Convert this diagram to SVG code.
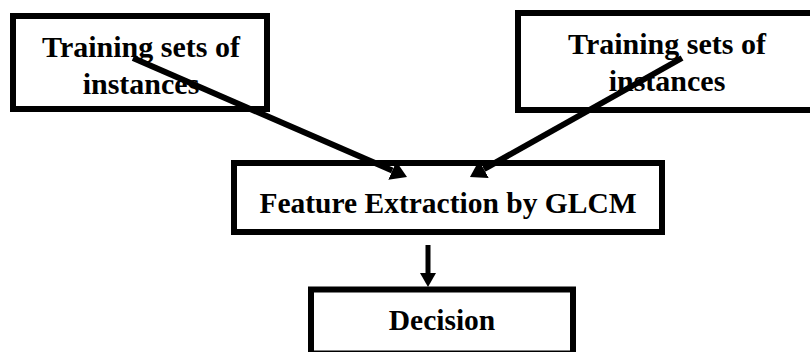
<svg xmlns="http://www.w3.org/2000/svg" width="810" height="352" viewBox="0 0 810 352">
  <defs>
    <style>
      .box { fill: #ffffff; stroke: #000000; stroke-width: 6; }
      .lbl { font-family: "Liberation Serif", "Times New Roman", serif; font-weight: bold; font-size: 30px; fill: #000000; text-anchor: middle; }
      .edge { stroke: #000000; stroke-width: 6; fill: none; }
    </style>
    <marker id="head" markerUnits="userSpaceOnUse" markerWidth="16" markerHeight="20" refX="0" refY="10" viewBox="0 0 16 20" orient="auto">
      <path d="M0,0 L16,10 L0,20 z" fill="#000000"/>
    </marker>
    <marker id="headSmall" markerUnits="userSpaceOnUse" markerWidth="14" markerHeight="16" refX="0" refY="8" viewBox="0 0 14 16" orient="auto">
      <path d="M0,0 L14,8 L0,16 z" fill="#000000"/>
    </marker>
  </defs>

  <rect width="810" height="352" fill="#ffffff"/>

  <g id="node-training-left">
    <rect class="box" x="13" y="16" width="254" height="93"/>
    <text class="lbl" x="141" y="57">Training sets of</text>
    <text class="lbl" x="141" y="94">instances</text>
  </g>

  <g id="node-training-right">
    <rect class="box" x="518" y="13" width="300" height="97"/>
    <text class="lbl" x="667" y="54">Training sets of</text>
    <text class="lbl" x="667" y="91">instances</text>
  </g>

  <g id="node-feature">
    <rect class="box" x="234" y="163" width="428" height="69"/>
    <text class="lbl" x="448" y="213" style="font-size:29.5px">Feature Extraction by GLCM</text>
  </g>

  <g id="node-decision">
    <rect class="box" x="311" y="289.5" width="262" height="64"/>
    <text class="lbl" x="442" y="330" style="font-size:29.5px">Decision</text>
  </g>

  <g id="connectors">
    <line class="edge" x1="133" y1="58" x2="392.3" y2="170.6" marker-end="url(#head)"/>
    <line class="edge" x1="682" y1="58" x2="483.9" y2="169.2" marker-end="url(#head)"/>
    <line class="edge" x1="428" y1="245" x2="428" y2="273" style="stroke-width:5" marker-end="url(#headSmall)"/>
  </g>
</svg>
